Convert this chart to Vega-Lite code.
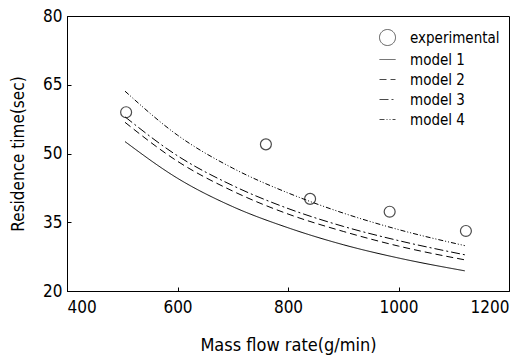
{
  "$schema": "https://vega.github.io/schema/vega-lite/v6.json",
  "width": 442,
  "height": 275,
  "autosize": {"type": "none"},
  "padding": {"left": 67, "top": 16, "right": 19, "bottom": 66},
  "background": "white",
  "config": {
    "view": {"stroke": "black", "strokeWidth": 1},
    "font": "DejaVu Sans Condensed, Liberation Sans, sans-serif",
    "axis": {
      "grid": false,
      "domainColor": "black",
      "tickColor": "black",
      "labelColor": "black",
      "titleColor": "black",
      "labelFont": "DejaVu Sans Condensed, Liberation Sans, sans-serif",
      "titleFont": "DejaVu Sans Condensed, Liberation Sans, sans-serif",
      "labelFontSize": 17,
      "titleFontSize": 17,
      "labelFontWeight": "normal",
      "titleFontWeight": "normal",
      "tickSize": -4,
      "tickWidth": 1
    },
    "legend": {
      "orient": "none",
      "legendX": 312,
      "legendY": 13,
      "labelFont": "DejaVu Sans Condensed, Liberation Sans, sans-serif",
      "labelFontSize": 15,
      "labelFontWeight": "normal",
      "labelColor": "black",
      "symbolSize": 256,
      "symbolStrokeColor": "black",
      "symbolStrokeWidth": 1,
      "symbolFillColor": "transparent",
      "labelOffset": 14,
      "rowPadding": 3
    }
  },
  "datasets": {
    "exp": [
      {"rate": 507, "time": 59.0, "series": "experimental"},
      {"rate": 760, "time": 52.0, "series": "experimental"},
      {"rate": 840, "time": 40.1, "series": "experimental"},
      {"rate": 984, "time": 37.3, "series": "experimental"},
      {"rate": 1122, "time": 33.1, "series": "experimental"}
    ],
    "model": [
      {"rate": 505, "time": 52.6, "series": "model 1"},
      {"rate": 600, "time": 44.6, "series": "model 1"},
      {"rate": 700, "time": 38.4, "series": "model 1"},
      {"rate": 800, "time": 33.8, "series": "model 1"},
      {"rate": 900, "time": 30.1, "series": "model 1"},
      {"rate": 1000, "time": 27.2, "series": "model 1"},
      {"rate": 1120, "time": 24.4, "series": "model 1"},
      {"rate": 505, "time": 56.8, "series": "model 2"},
      {"rate": 600, "time": 48.3, "series": "model 2"},
      {"rate": 700, "time": 41.8, "series": "model 2"},
      {"rate": 800, "time": 36.8, "series": "model 2"},
      {"rate": 900, "time": 33.0, "series": "model 2"},
      {"rate": 1000, "time": 29.8, "series": "model 2"},
      {"rate": 1120, "time": 26.8, "series": "model 2"},
      {"rate": 505, "time": 58.0, "series": "model 3"},
      {"rate": 600, "time": 49.5, "series": "model 3"},
      {"rate": 700, "time": 43.0, "series": "model 3"},
      {"rate": 800, "time": 38.0, "series": "model 3"},
      {"rate": 900, "time": 34.1, "series": "model 3"},
      {"rate": 1000, "time": 31.0, "series": "model 3"},
      {"rate": 1120, "time": 27.9, "series": "model 3"},
      {"rate": 505, "time": 63.6, "series": "model 4"},
      {"rate": 600, "time": 54.0, "series": "model 4"},
      {"rate": 700, "time": 46.8, "series": "model 4"},
      {"rate": 800, "time": 41.4, "series": "model 4"},
      {"rate": 900, "time": 37.0, "series": "model 4"},
      {"rate": 1000, "time": 33.4, "series": "model 4"},
      {"rate": 1120, "time": 29.9, "series": "model 4"}
    ]
  },
  "layer": [
    {
      "data": {"name": "model"},
      "mark": {"type": "line", "interpolate": "monotone", "strokeWidth": 1, "color": "black"},
      "encoding": {
        "x": {
          "field": "rate", "type": "quantitative",
          "scale": {"domain": [400, 1200], "nice": false, "zero": false},
          "axis": {"values": [400, 600, 800, 1000, 1200], "format": "d", "title": "Mass flow  rate(g/min)", "titleFontSize": 18, "labelPadding": 12, "titlePadding": 21}
        },
        "y": {
          "field": "time", "type": "quantitative",
          "scale": {"domain": [20, 80], "nice": false, "zero": false},
          "axis": {
            "values": [20, 27.5, 35, 42.5, 50, 57.5, 65, 72.5, 80],
            "labelExpr": "datum.value % 15 == 5 ? datum.label : ''",
            "title": "Residence  time(sec)", "labelPadding": 9, "titlePadding": 15
          }
        },
        "strokeDash": {
          "field": "series", "type": "nominal",
          "scale": {
            "domain": ["experimental", "model 1", "model 2", "model 3", "model 4"],
            "range": [[1, 0], [1, 0], [7, 4], [9, 3, 2, 3], [5, 2, 1, 2, 1, 2]]
          },
          "legend": {"title": null}
        }
      }
    },
    {
      "data": {"name": "exp"},
      "mark": {"type": "point", "filled": false, "color": "black", "size": 120, "strokeWidth": 1.2},
      "encoding": {
        "x": {"field": "rate", "type": "quantitative"},
        "y": {"field": "time", "type": "quantitative"},
        "shape": {
          "field": "series", "type": "nominal",
          "scale": {
            "domain": ["experimental", "model 1", "model 2", "model 3", "model 4"],
            "range": ["circle", "stroke", "stroke", "stroke", "stroke"]
          },
          "legend": {"title": null}
        }
      }
    }
  ]
}
